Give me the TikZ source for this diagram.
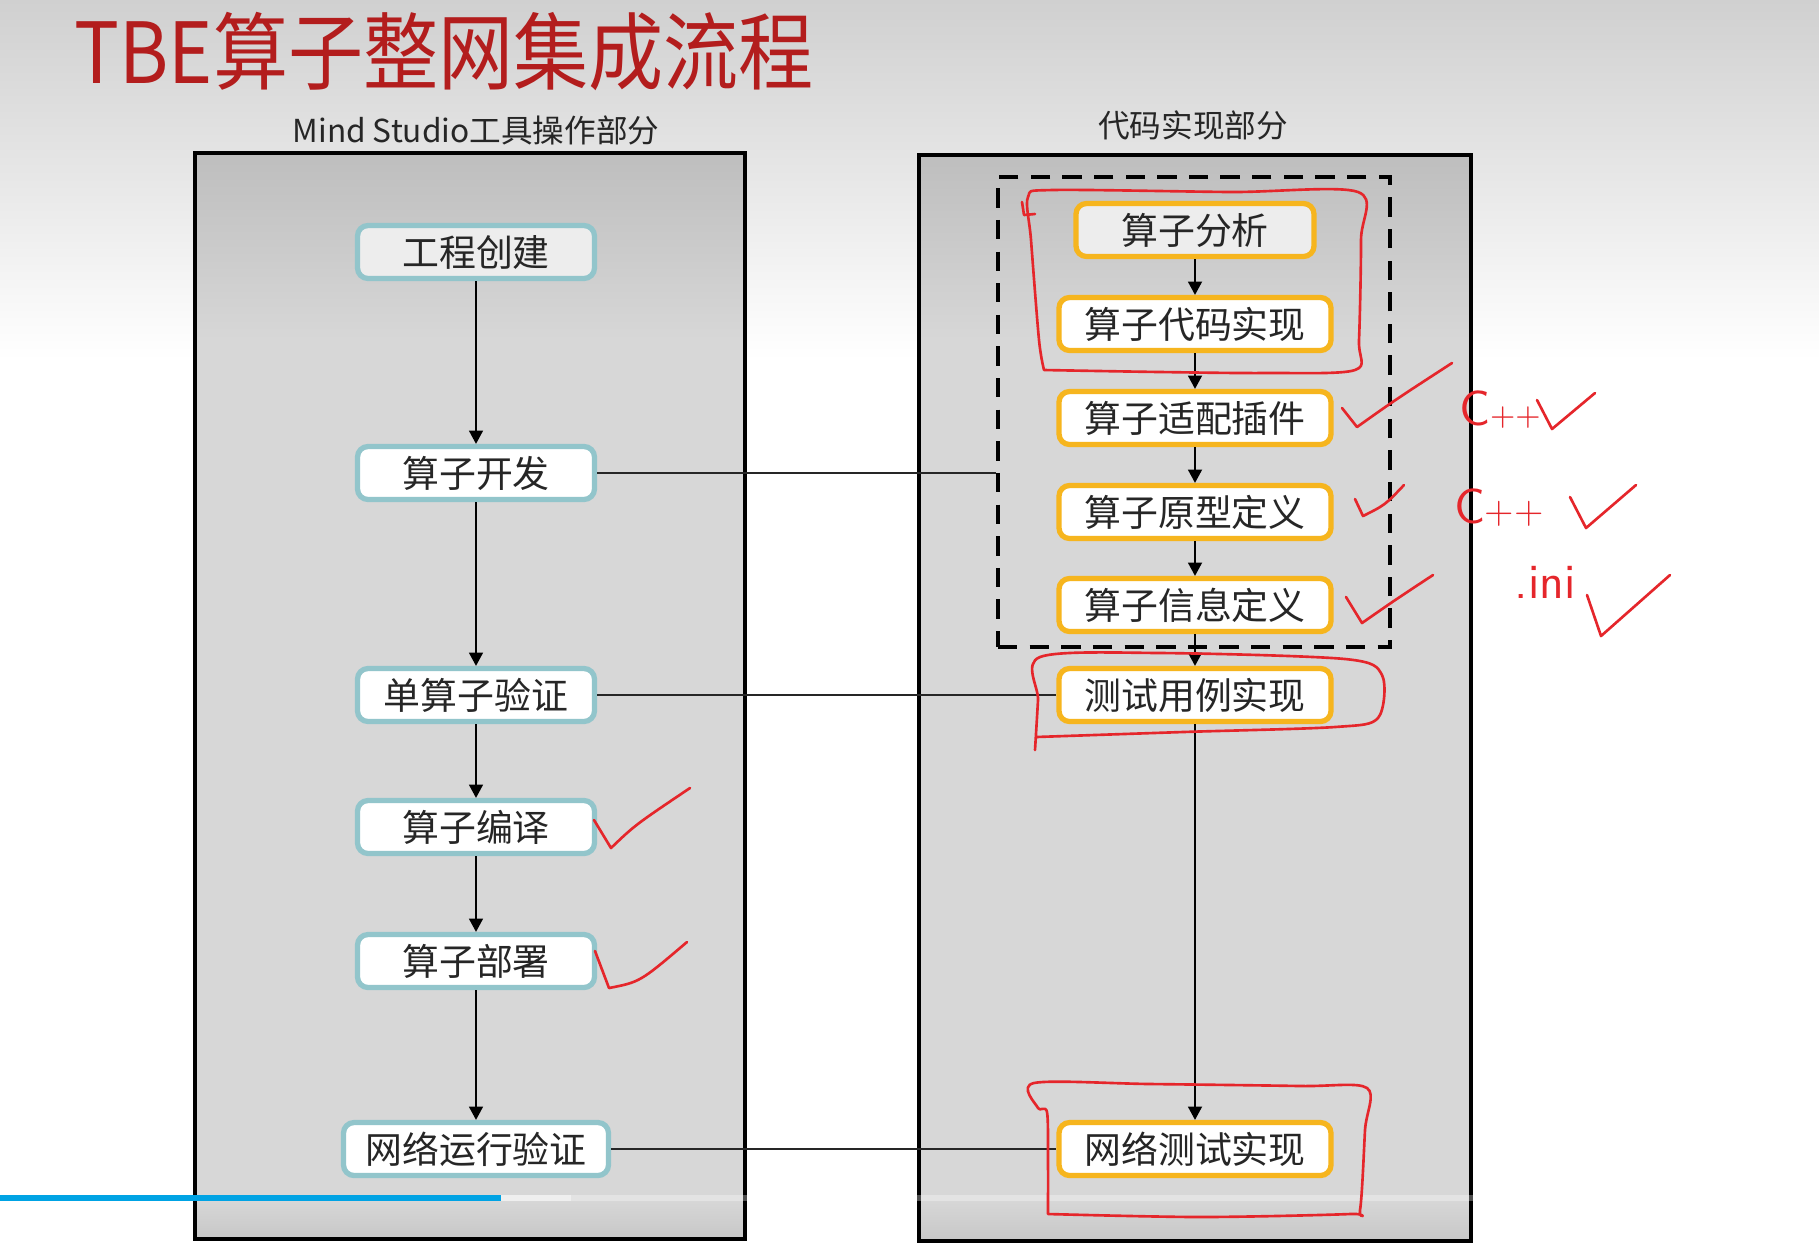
\documentclass[tikz,border=0pt]{standalone}
\usepackage{fontspec}
\newfontfamily\cjk{Noto Sans CJK SC}
\usetikzlibrary{arrows.meta}
\definecolor{panelgray}{HTML}{D7D7D7}
\definecolor{paneltop}{HTML}{BEBEBE}
\definecolor{slidegray}{HTML}{D0D0D0}
\definecolor{opteal}{HTML}{92C5CB}
\definecolor{codeorange}{HTML}{F6B51E}
\definecolor{titlered}{HTML}{B31D1D}
\definecolor{penred}{HTML}{E5262B}
\definecolor{barblue}{HTML}{00A3E4}

\begin{document}
\begin{tikzpicture}[
  x=1cm,
  y=1cm,
  every node/.style={font=\cjk},
  panel/.style={draw=black, line width=1.1pt},
  opbox/.style={draw=opteal, line width=1.5pt, rounded corners=3pt, fill=white,
                minimum width=2.37cm, minimum height=0.53cm, inner sep=0pt,
                font=\cjk\fontsize{10.5}{12}\selectfont, text=black!85},
  codebox/.style={opbox, draw=codeorange, minimum width=2.72cm},
  heading/.style={font=\cjk\fontsize{9}{11}\selectfont, text=black!85},
  dashbox/.style={draw=black, line width=1.2pt, dash pattern=on 5.5pt off 3.5pt,
                  inner sep=0pt},
  flow/.style={black, line width=0.45pt, -{Triangle[length=3.8pt,width=4pt]}},
  link/.style={black!85, line width=0.45pt},
  pen/.style={penred, line width=0.75pt, line cap=round, line join=round},
  pentext/.style={penred, font=\sffamily\fontsize{14}{14}\selectfont, inner sep=0pt}
]
  \useasboundingbox (0,0) rectangle (18.19,-12.49);

  % ---- slide background ----
  \fill[white] (0,0) rectangle (18.19,-12.49);
  \shade[top color=slidegray, bottom color=white] (0,0) rectangle (18.19,-3.6);

  % ---- title and headings ----
  \node[anchor=west, inner sep=0pt, text=titlered, font=\cjk\fontsize{24}{28}\selectfont,
        xscale=0.89, transform shape]
    (title) at (0.74,-0.52) {TBE算子整网集成流程};
  \node[heading] (lefthead)  at (4.76,-1.30)  {Mind Studio工具操作部分};
  \node[heading] (righthead) at (11.93,-1.25) {代码实现部分};

  % ---- panels ----
  \foreach \xa/\xb/\ya/\yb in {1.95/7.45/-1.53/-12.39, 9.19/14.71/-1.55/-12.41} {
    \fill[panelgray] (\xa,\ya) rectangle (\xb,\yb);
    \shade[top color=paneltop, bottom color=panelgray] (\xa,\ya) rectangle (\xb,-3.4);
    \shade[top color=panelgray, bottom color=black!22] (\xa,-12.0) rectangle (\xb,\yb);
    \draw[panel] (\xa,\ya) rectangle (\xb,\yb);
  }

  % ---- code part group ----
  \node[dashbox, minimum width=3.92cm, minimum height=4.70cm] (impl) at (11.94,-4.12) {};

  % ---- Mind Studio steps ----
  \node[opbox, fill=white!93!black] (create)  at (4.76,-2.52)  {工程创建};
  \node[opbox] (develop) at (4.76,-4.73)  {算子开发};
  \node[opbox] (single)  at (4.76,-6.95)  {单算子验证};
  \node[opbox] (compile) at (4.76,-8.27)  {算子编译};
  \node[opbox] (deploy)  at (4.76,-9.61)  {算子部署};
  \node[opbox, minimum width=2.65cm] (netrun) at (4.76,-11.49) {网络运行验证};

  % ---- code steps ----
  \node[codebox, fill=white!93!black, minimum width=2.38cm] (analyse) at (11.95,-2.30) {算子分析};
  \node[codebox] (code)     at (11.95,-3.24)  {算子代码实现};
  \node[codebox] (plugin)   at (11.95,-4.18)  {算子适配插件};
  \node[codebox] (proto)    at (11.95,-5.12)  {算子原型定义};
  \node[codebox] (info)     at (11.95,-6.05)  {算子信息定义};
  \node[codebox] (testcase) at (11.95,-6.95)  {测试用例实现};
  \node[codebox] (nettest)  at (11.95,-11.49) {网络测试实现};

  % ---- flow arrows ----
  \foreach \a/\b in {create/develop, develop/single, single/compile,
                     compile/deploy, deploy/netrun,
                     analyse/code, code/plugin, plugin/proto, proto/info,
                     info/testcase, testcase/nettest}
    \draw[flow] (\a.south) -- (\b.north);

  % ---- links between the parts ----
  \draw[link] (develop.east) -- (develop.east -| impl.west);
  \draw[link] (single.east) -- (testcase.west);
  \draw[link] (netrun.east) -- (nettest.west);

  % ---- player bar ----
  \fill[barblue] (0,-11.95) rectangle (5.01,-12.01);
  \fill[white, opacity=0.6] (5.01,-11.95) rectangle (5.71,-12.01);
  \fill[white, opacity=0.3] (5.71,-11.95) rectangle (14.75,-12.01);

  % ---- red pen marks ----
  \draw[pen] plot[smooth] coordinates {(10.44,-3.70) (10.39,-3.40) (10.31,-2.40)
    (10.28,-1.97) (10.53,-1.90) (12.31,-1.92) (13.58,-1.92) (13.61,-2.40)
    (13.59,-3.40) (13.55,-3.70) (12.67,-3.73) (11.60,-3.72) (10.44,-3.70)};
  \draw[pen] (10.22,-2.02) -- (10.24,-2.15) -- (10.35,-2.14);
  \draw[pen] plot[smooth] coordinates {(10.35,-7.50) (10.38,-7.00) (10.40,-6.57)
    (11.60,-6.53) (13.45,-6.59) (13.82,-6.75) (13.78,-7.18) (13.35,-7.27)
    (11.83,-7.32) (10.36,-7.37)};
  \draw[pen] plot[smooth] coordinates {(10.48,-12.14) (10.48,-11.60) (10.47,-11.12)
    (10.38,-11.08) (10.34,-10.83) (11.50,-10.84) (13.00,-10.86) (13.67,-10.88)
    (13.65,-11.30) (13.60,-12.10) (13.50,-12.14) (12.00,-12.17) (10.48,-12.14)};

  % checks
  \draw[pen] (5.94,-8.20) -- (6.11,-8.48) .. controls (6.35,-8.25) .. (6.90,-7.88);
  \draw[pen] (5.95,-9.51) -- (6.09,-9.88) .. controls (6.40,-9.82) .. (6.87,-9.42);
  \draw[pen] (13.42,-4.08) -- (13.57,-4.27) .. controls (13.95,-4.00) .. (14.52,-3.63);
  \draw[pen] (13.55,-4.99) -- (13.63,-5.16) .. controls (13.85,-5.05) .. (14.04,-4.85);
  \draw[pen] (13.46,-5.97) -- (13.62,-6.23) .. controls (13.95,-6.00) .. (14.33,-5.75);
  \draw[pen] (15.37,-4.00) -- (15.52,-4.29) -- (15.95,-3.93);
  \draw[pen] (15.70,-4.97) -- (15.86,-5.28) -- (16.36,-4.85);
  \draw[pen] (15.87,-5.95) -- (16.01,-6.36) -- (16.70,-5.75);

  % notes
  \node[pentext] (note1) at (15.00,-4.10) {C{\fontsize{9}{9}\selectfont++}};
  \node[pentext] (note2) at (14.99,-5.08) {C{\fontsize{11}{11}\selectfont++}};
  \node[pentext] (note3) at (15.45,-5.82) {.ini};
\end{tikzpicture}
\end{document}
